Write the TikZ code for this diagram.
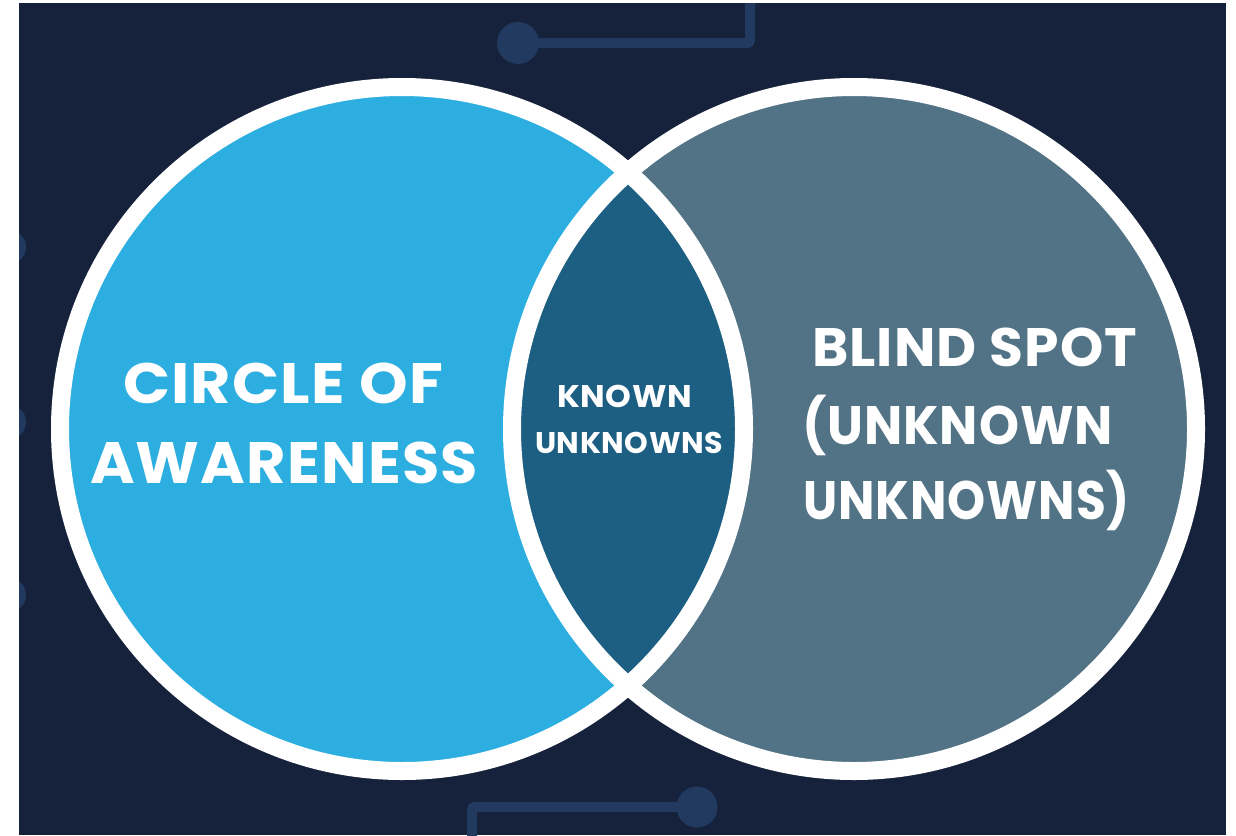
\documentclass[tikz,border=0pt]{standalone}
\usepackage{fontspec}
\usepackage{graphicx}
\newfontfamily\pop{Poppins}[LetterSpace=2]
\definecolor{bg}{HTML}{16223B}
\definecolor{deco}{HTML}{223A60}
\definecolor{leftc}{HTML}{2CAEE0}
\definecolor{lensc}{HTML}{1D5F82}
\definecolor{rightc}{HTML}{527386}
\newlength\capdim
\newcommand\fitcap[3]{\resizebox{#1}{#2}{\settoheight{\capdim}{X}\raisebox{0pt}[\capdim][0pt]{#3}}}
\tikzset{
  lbl/.style={anchor=base west, inner sep=0pt, outer sep=0pt, text=white, font=\pop\bfseries},
  dotnode/.style={circle, fill=deco, draw=none, inner sep=0pt, minimum size=#1},
  decoline/.style={draw=deco, line width=10pt, rounded corners=3pt},
  ring/.style={draw=white, line width=18pt},
}
\begin{document}
\begin{tikzpicture}[x=1pt, y=-1pt]
\useasboundingbox (0,0) rectangle (1236,835);
\fill[bg] (0,0) rectangle (1236,835);
% decorations
\node[dotnode=42pt] (d1) at (518,43) {};
\coordinate (c1) at (750,43);
\coordinate (c1e) at (750,-10);
\draw[decoline] (d1.center) -- (c1) -- (c1e);
\node[dotnode=41pt] (d2) at (697,807) {};
\coordinate (c2) at (472,807);
\coordinate (c2e) at (472,845);
\draw[decoline] (d2.center) -- (c2) -- (c2e);
\node[dotnode=34pt] (l1) at (9,247) {};
\node[dotnode=34pt] (l2) at (9,422) {};
\node[dotnode=34pt] (l3) at (9,595) {};
% circles
\fill[leftc] (402,429) circle[radius=342pt];
\fill[rightc] (854,429) circle[radius=342pt];
\begin{scope}
  \clip (402,429) circle[radius=342pt];
  \fill[lensc] (854,429) circle[radius=342pt];
\end{scope}
\draw[ring] (402,429) circle[radius=342pt];
\draw[ring] (854,429) circle[radius=342pt];
% texts
\node[lbl] (t1) at (123,403) {\fitcap{320pt}{40pt}{CIRCLE OF}};
\node[lbl] (t2) at (90,483) {\fitcap{388pt}{41pt}{AWARENESS}};
\node[lbl] (k1) at (557,407) {\fitcap{135pt}{22pt}{KNOWN}};
\node[lbl] (k2) at (535,453) {\fitcap{188pt}{21pt}{UNKNOWNS}};
\node[lbl] (b1) at (812,366) {\fitcap{325pt}{38pt}{BLIND SPOT}};
\node[lbl] (b2) at (802,444) {\fitcap{311pt}{38pt}{(UNKNOWN}};
\node[lbl] (b3) at (803,519) {\fitcap{327pt}{38pt}{UNKNOWNS)}};
% white margins
\fill[white] (0,0) rectangle (19,835);
\fill[white] (0,0) rectangle (1236,3);
\fill[white] (1226,0) rectangle (1236,835);
\end{tikzpicture}
\end{document}
